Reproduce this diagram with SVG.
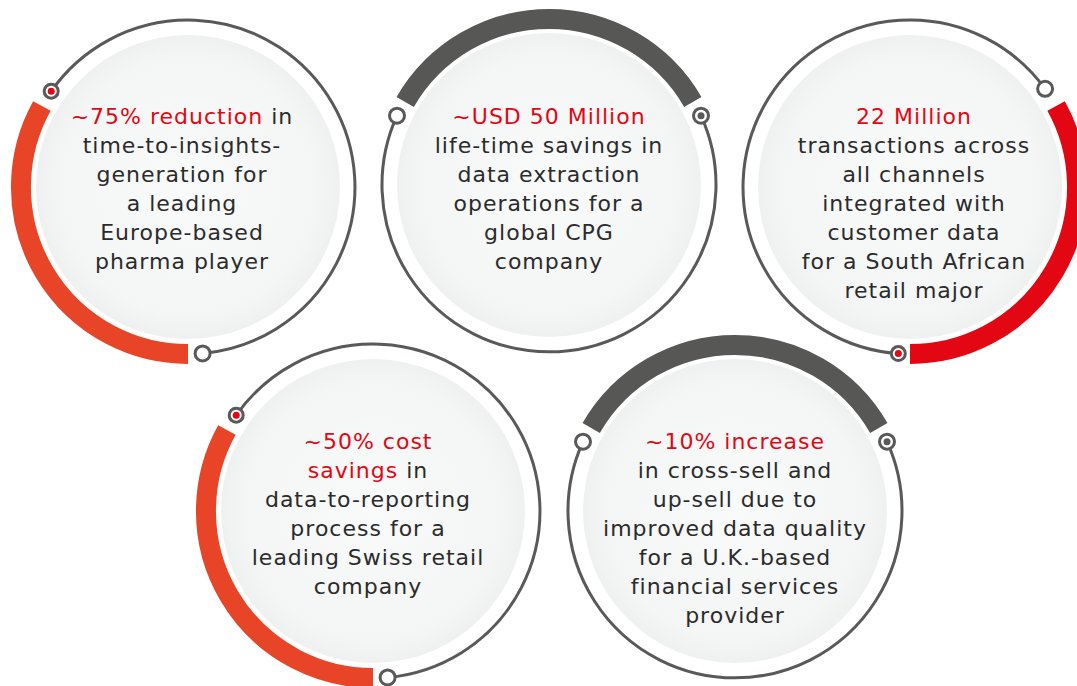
<svg xmlns="http://www.w3.org/2000/svg" width="1077" height="686" viewBox="0 0 1077 686">
<style>
.fill{fill:url(#g)}
.ring{fill:none;stroke:#595959;stroke-width:3}
.arcO{fill:none;stroke:#e84427;stroke-width:20}
.arcR{fill:none;stroke:#e30613;stroke-width:20}
.arcD{fill:none;stroke:#575756;stroke-width:20}
.dot{fill:#fff;stroke:#595959;stroke-width:3}
.inR{fill:#e30613}
.inO{fill:#e84427}
.inD{fill:#595959}
text{font-family:"DejaVu Sans","Open Sans",sans-serif;font-size:22px;letter-spacing:1px;fill:#2b2b2b;text-anchor:middle}
.r{fill:#e30613}
</style>
<defs>
<radialGradient id="g" cx="0.5" cy="0.5" r="0.5">
<stop offset="0" stop-color="#f9fafa"/>
<stop offset="0.85" stop-color="#f4f5f5"/>
<stop offset="1" stop-color="#eff0f0"/>
</radialGradient>
</defs>
<rect width="1077" height="686" fill="#fff"/>

<g id="node1">
<circle class="fill" cx="188" cy="187" r="152"/>
<path class="ring" d="M 51.2 91.2 A 167 167 0 1 1 202.6 353.4"/>
<path class="arcO" d="M 188 354 A 167 167 0 0 1 41.9 106"/>
<circle class="dot" cx="51.2" cy="91.2" r="7"/><circle class="inR" cx="51.2" cy="91.2" r="3.5"/>
<circle class="dot" cx="202.6" cy="353.4" r="7.5"/>
<text x="182" y="124"><tspan class="r">~75% reduction</tspan> in</text>
<text x="182" y="153">time-to-insights-</text>
<text x="182" y="182">generation for</text>
<text x="182" y="211">a leading</text>
<text x="182" y="240">Europe-based</text>
<text x="182" y="269">pharma player</text>
</g>

<g id="node2">
<circle class="fill" cx="549" cy="185" r="152"/>
<path class="ring" d="M 701 115.7 A 167 167 0 1 1 397 115.7"/>
<path class="arcD" d="M 405.2 102 A 166 166 0 0 1 692.8 102"/>
<circle class="dot" cx="397" cy="115.7" r="7.5"/>
<circle class="dot" cx="701" cy="115.7" r="7.5"/><circle class="inD" cx="701" cy="115.7" r="3.5"/>
<text class="r" x="549" y="124">~USD 50 Million</text>
<text x="549" y="153">life-time savings in</text>
<text x="549" y="182">data extraction</text>
<text x="549" y="211">operations for a</text>
<text x="549" y="240">global CPG</text>
<text x="549" y="269">company</text>
</g>

<g id="node3">
<circle class="fill" cx="910" cy="187" r="152"/>
<path class="ring" d="M 898.3 353.6 A 167 167 0 1 1 1045.1 88.8"/>
<path class="arcR" d="M 1056.1 106 A 167 167 0 0 1 910 354"/>
<circle class="dot" cx="1045.1" cy="88.8" r="7.5"/>
<circle class="dot" cx="898.3" cy="353.6" r="7"/><circle class="inR" cx="898.3" cy="353.6" r="3.5"/>
<text class="r" x="914" y="124">22 Million</text>
<text x="914" y="153">transactions across</text>
<text x="914" y="182">all channels</text>
<text x="914" y="211">integrated with</text>
<text x="914" y="240">customer data</text>
<text x="914" y="269">for a South African</text>
<text x="914" y="298">retail major</text>
</g>

<g id="node4">
<circle class="fill" cx="373" cy="511" r="152"/>
<path class="ring" d="M 236.2 415.2 A 167 167 0 1 1 387.6 677.4"/>
<path class="arcO" d="M 373 678 A 167 167 0 0 1 226.9 430"/>
<circle class="dot" cx="236.2" cy="415.2" r="7"/><circle class="inR" cx="236.2" cy="415.2" r="3.5"/>
<circle class="dot" cx="387.6" cy="677.4" r="7.5"/>
<text x="368" y="449"><tspan class="r">~50% cost</tspan></text>
<text x="368" y="478"><tspan class="r">savings</tspan> in</text>
<text x="368" y="507">data-to-reporting</text>
<text x="368" y="536">process for a</text>
<text x="368" y="565">leading Swiss retail</text>
<text x="368" y="594">company</text>
</g>

<g id="node5">
<circle class="fill" cx="735" cy="511" r="152"/>
<path class="ring" d="M 887 441.7 A 167 167 0 1 1 583 441.7"/>
<path class="arcD" d="M 591.2 428 A 166 166 0 0 1 878.8 428"/>
<circle class="dot" cx="583" cy="441.7" r="7.5"/>
<circle class="dot" cx="887" cy="441.7" r="7.5"/><circle class="inD" cx="887" cy="441.7" r="3.5"/>
<text class="r" x="735" y="449">~10% increase</text>
<text x="735" y="478">in cross-sell and</text>
<text x="735" y="507">up-sell due to</text>
<text x="735" y="536">improved data quality</text>
<text x="735" y="565">for a U.K.-based</text>
<text x="735" y="594">financial services</text>
<text x="735" y="623">provider</text>
</g>

<g id="connectors"></g>
</svg>
